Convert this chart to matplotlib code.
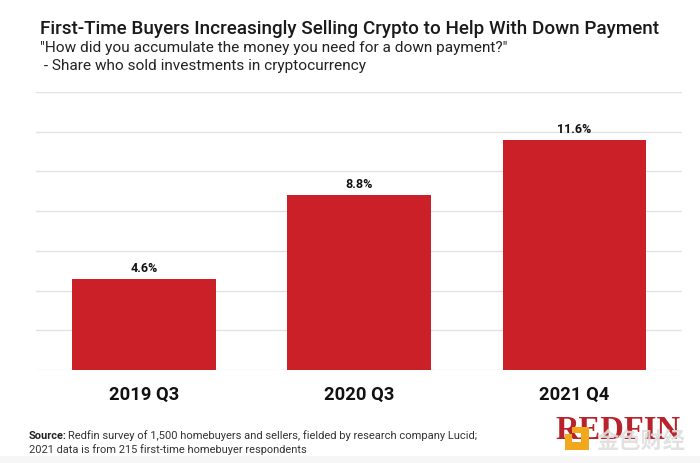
import matplotlib
matplotlib.use('Agg')
import matplotlib.pyplot as plt
from matplotlib.patches import Rectangle

quarters = ['2019 Q3', '2020 Q3', '2021 Q4']
shares = [4.6, 8.8, 11.6]
grid_ticks = [0, 2, 4, 6, 8, 10, 12, 14]

W, H = 700, 464
RED = '#cb2027'

plt.rcParams['font.family'] = ['Roboto', 'DejaVu Sans']

fig = plt.figure(figsize=(7, 4.64), dpi=100)

# Plot area in pixels: x 36-682, y 93-371
ax = fig.add_axes([36 / W, 1 - 371 / H, 646 / W, 278 / H])
bars = ax.bar(range(3), shares, width=0.668, color=RED, zorder=3)
ax.set_xlim(-0.5016, 2.499)
ax.set_ylim(0, 14)
ax.set_yticks(grid_ticks)
ax.set_yticklabels([])
ax.set_xticks(range(3))
ax.set_xticklabels(quarters, fontsize=13.2, fontweight='bold', color='#111111')
ax.tick_params(length=0)
ax.tick_params(axis='x', pad=10.5)
ax.grid(axis='y', color='#e2e2e2', lw=1, zorder=0)
for s in ax.spines.values():
    s.set_visible(False)

# Value labels
for b, v in zip(bars, shares):
    ax.annotate(f'{v}%', (b.get_x() + b.get_width() / 2, v), xytext=(0, 3.5),
                textcoords='offset points', ha='center', va='bottom',
                fontsize=9, fontweight='bold', color='#111111')

# Title block
def px_text(x, y, s, **kw):
    return fig.text(x / W, 1 - y / H, s, va='center', ha='left', **kw)

px_text(40, 29, 'First-Time Buyers Increasingly Selling Crypto to Help With Down Payment',
        fontsize=13.58, fontweight='medium', color='#1a1a1a')
px_text(40, 48, '"How did you accumulate the money you need for a down payment?"',
        fontsize=11.1, color='#222222')
px_text(40, 66, ' - Share who sold investments in cryptocurrency',
        fontsize=11.1, color='#222222')

# Source note
px_text(29, 436, 'Source:', fontsize=7.9, fontweight='bold', color='#222222')
px_text(68, 436, 'Redfin survey of 1,500 homebuyers and sellers, fielded by research company Lucid;',
        fontsize=8.0, color='#333333')
px_text(29, 449.5, '2021 data is from 215 first-time homebuyer respondents',
        fontsize=7.9, color='#333333')

# Logo with watermark on top
bg = fig.add_axes([0, 0, 1, 1], zorder=5)
bg.set_xlim(0, W)
bg.set_ylim(H, 0)
bg.axis('off')
bg.patch.set_alpha(0)
bg.add_patch(Rectangle((0, 457), W, 7, color='#f6f6f6', lw=0))
bg.text(555, 431, 'REDFIN', fontsize=23.5, fontweight='bold', color='#b8232b',
        family=['Liberation Serif', 'DejaVu Sans'], va='center', ha='left', zorder=2)
orange = '#f2a81d'
for x, y, w, h in [(565, 443, 24, 8), (565, 435, 7, 10), (581, 428, 8, 23), (572, 428, 10, 6)]:
    bg.add_patch(Rectangle((x, y), w, h, color=orange, lw=0, zorder=3))
bg.text(597, 441, '金色财经', fontsize=16, fontweight='bold', color='#dedede',
        family=['Noto Sans CJK SC', 'DejaVu Sans'], va='center', ha='left', alpha=0.9, zorder=4)

fig.savefig('out.png', dpi=100)
